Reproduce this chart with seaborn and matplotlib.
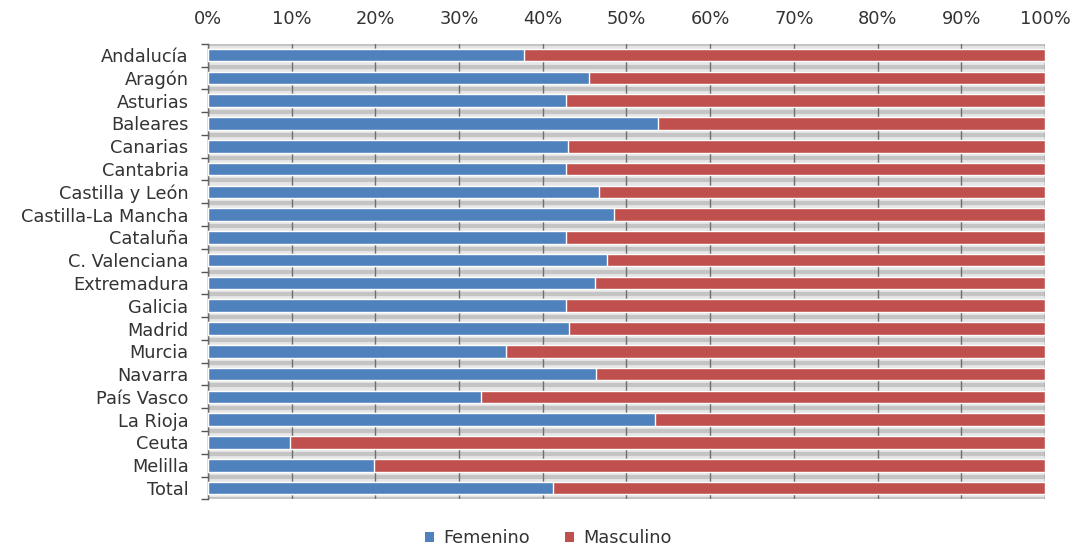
import matplotlib
matplotlib.use("Agg")
import matplotlib.pyplot as plt
from matplotlib.patches import Patch
from matplotlib.ticker import FixedLocator, FuncFormatter
import numpy as np
import pandas as pd
import seaborn as sns

regiones = ["Andalucía", "Aragón", "Asturias", "Baleares", "Canarias", "Cantabria",
            "Castilla y León", "Castilla-La Mancha", "Cataluña", "C. Valenciana",
            "Extremadura", "Galicia", "Madrid", "Murcia", "Navarra", "País Vasco",
            "La Rioja", "Ceuta", "Melilla", "Total"]
femenino = [37.8, 45.5, 42.8, 53.8, 43.0, 42.8, 46.7, 48.5, 42.8, 47.7,
            46.3, 42.8, 43.1, 35.6, 46.4, 32.6, 53.4, 9.8, 19.8, 41.2]
masculino = [62.2, 54.5, 57.2, 46.2, 57.0, 57.2, 53.3, 51.5, 57.2, 52.3,
             53.7, 57.2, 56.9, 64.4, 53.6, 67.4, 46.6, 90.2, 80.2, 58.8]
series = ["Femenino", "Masculino"]
colores = ["#4f81bd", "#c0504d"]

df = pd.DataFrame({"region": regiones, "fem": femenino, "masc": masculino})
df["acum"] = df["fem"] + df["masc"]

sns.set_theme(style="white")
plt.rcParams["font.family"] = ["DejaVu Sans"]
FS = 12.8
TXT = "#333333"

fig = plt.figure(figsize=(10.75, 5.47), dpi=100)
ax = fig.add_axes([0.1935, 0.087, 0.7785, 0.833])
ax.set_facecolor("#e6e6e6")

# stacked horizontal bars: cumulative total underneath, first series on top
sns.barplot(data=df, x="acum", y="region", color=colores[1], width=0.55,
            edgecolor="white", linewidth=1, saturation=1, ax=ax, zorder=3)
sns.barplot(data=df, x="fem", y="region", color=colores[0], width=0.55,
            edgecolor="white", linewidth=1, saturation=1, ax=ax, zorder=4)

n = len(regiones)
ax.set_xlim(0, 100)
ax.set_ylim(n - 0.5, -0.5)

# darker band in the middle of each gap between bars
for b in np.arange(n + 1) - 0.5:
    ax.axhline(b, color="#c4c4c4", lw=3, zorder=1)

ax.xaxis.set_major_locator(FixedLocator(np.arange(0, 101, 10)))
ax.xaxis.set_major_formatter(FuncFormatter(lambda v, p: f"{v:.0f}%"))
ax.xaxis.tick_top()
ax.grid(axis="x", color="#6e6e6e", lw=1, zorder=2)
ax.set_axisbelow(False)
ax.tick_params(axis="x", length=0, pad=11, labelsize=FS, labelcolor=TXT)
ax.tick_params(axis="y", which="major", length=0, pad=14, labelsize=FS, labelcolor=TXT)
ax.yaxis.set_minor_locator(FixedLocator(np.arange(n + 1) - 0.5))
ax.tick_params(axis="y", which="minor", left=True, length=5, width=1, color="#555555")
ax.set_xlabel("")
ax.set_ylabel("")

for s in ["top", "right", "bottom"]:
    ax.spines[s].set_visible(False)
ax.spines["left"].set_color("#555555")
ax.spines["left"].set_linewidth(1)

handles = [Patch(facecolor=c, edgecolor="none", label=s) for c, s in zip(colores, series)]
fig.legend(handles=handles, loc="lower center", bbox_to_anchor=(0.51, -0.03), ncol=2,
           frameon=False, fontsize=FS, handlelength=0.5, handleheight=0.5,
           handletextpad=0.5, columnspacing=2.0, labelcolor=TXT)

fig.savefig("out.png", dpi=100)
